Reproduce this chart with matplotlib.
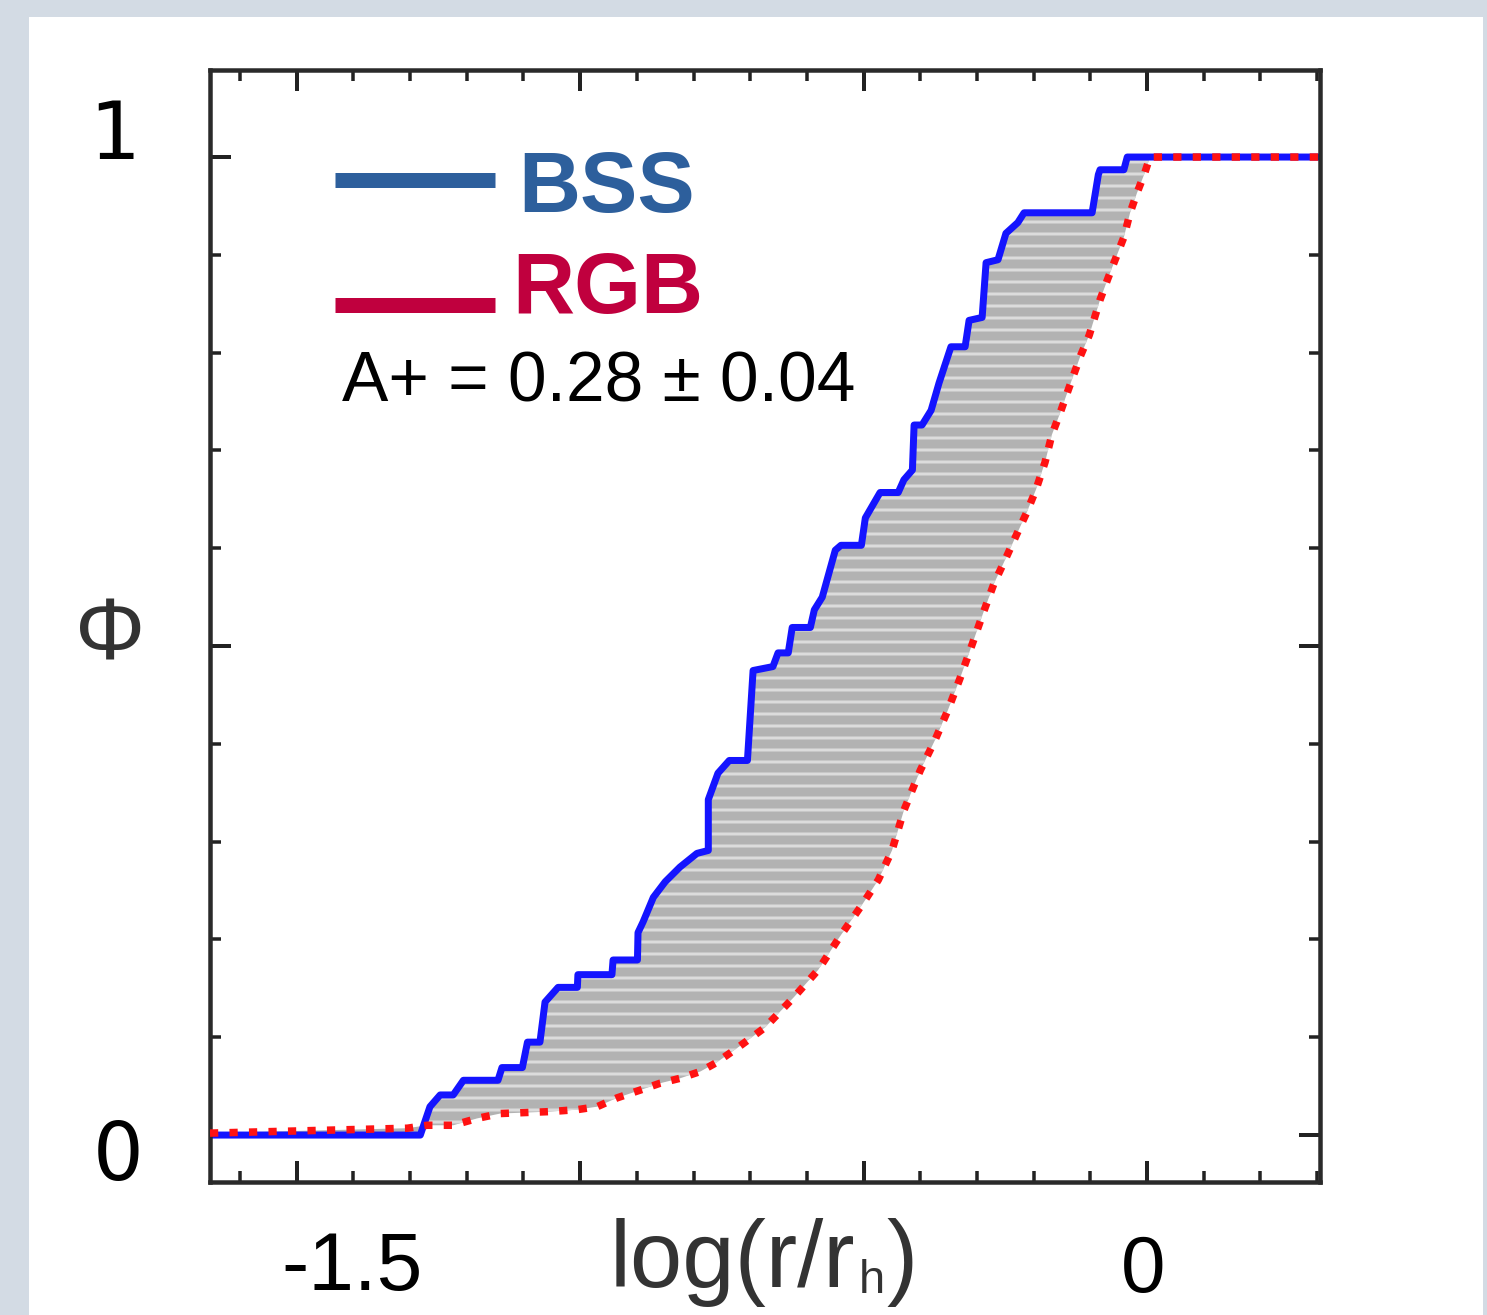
import matplotlib
matplotlib.use("Agg")
import matplotlib.pyplot as plt
import numpy as np
from matplotlib.lines import Line2D
from matplotlib.patches import Rectangle
from matplotlib.ticker import MultipleLocator

W, H, DPI = 1487, 1315, 72

# cumulative radial distribution of BSS (staircase vertices)
bss_logr = [-1.653, -1.282, -1.265, -1.247, -1.224, -1.206, -1.145, -1.138,
            -1.102, -1.093, -1.071, -1.062, -1.039, -1.005, -1.004, -0.944,
            -0.942, -0.899, -0.898, -0.889, -0.871, -0.850, -0.824, -0.794,
            -0.774, -0.774, -0.757, -0.737, -0.705, -0.695, -0.660, -0.651,
            -0.633, -0.626, -0.594, -0.587, -0.573, -0.550, -0.540, -0.504,
            -0.497, -0.487, -0.471, -0.439, -0.429, -0.414, -0.411, -0.397,
            -0.381, -0.367, -0.346, -0.321, -0.314, -0.291, -0.284, -0.263,
            -0.249, -0.228, -0.217, -0.097, -0.086, -0.083, -0.041, -0.035,
            0.305]
bss_phi = [0.0, 0.0, 0.029, 0.041, 0.041, 0.056, 0.056, 0.069,
           0.069, 0.095, 0.095, 0.136, 0.151, 0.151, 0.164, 0.164,
           0.179, 0.179, 0.207, 0.218, 0.243, 0.259, 0.274, 0.288,
           0.291, 0.343, 0.370, 0.383, 0.383, 0.475, 0.479, 0.493,
           0.493, 0.519, 0.519, 0.537, 0.550, 0.598, 0.603, 0.603,
           0.631, 0.641, 0.657, 0.657, 0.670, 0.680, 0.726, 0.726,
           0.741, 0.769, 0.806, 0.806, 0.833, 0.836, 0.892, 0.895,
           0.922, 0.933, 0.943, 0.943, 0.982, 0.987, 0.987, 1.0,
           1.0]

# cumulative radial distribution of RGB stars
rgb_logr = [-1.653, -1.305, -1.270, -1.224, -1.182, -1.141, -1.053, -1.005,
            -0.970, -0.935, -0.894, -0.859, -0.824, -0.788, -0.760, -0.723,
            -0.674, -0.623, -0.580, -0.543, -0.501, -0.474, -0.450, -0.429,
            -0.400, -0.374, -0.351, -0.330, -0.309, -0.289, -0.270, -0.249,
            -0.231, -0.212, -0.196, -0.180, -0.168, -0.153, -0.139, -0.118,
            -0.102, -0.083, -0.069, -0.055, -0.041, -0.030, -0.018, -0.004,
            0.005, 0.305]
rgb_phi = [0.002, 0.007, 0.010, 0.010, 0.017, 0.022, 0.024, 0.026,
           0.029, 0.038, 0.046, 0.053, 0.058, 0.065, 0.074, 0.089,
           0.110, 0.141, 0.169, 0.202, 0.237, 0.261, 0.291, 0.332,
           0.373, 0.404, 0.435, 0.467, 0.501, 0.534, 0.564, 0.590,
           0.613, 0.637, 0.660, 0.688, 0.716, 0.739, 0.762, 0.796,
           0.818, 0.854, 0.876, 0.897, 0.918, 0.943, 0.963, 0.984,
           1.0, 1.0]

labels = ["BSS", "RGB"]
label_colors = ["#2d5f9c", "#c0003e"]
a_plus = "A+ = 0.28 ± 0.04"

XLIM = (-1.653, 0.305)
YLIM = (-0.048, 1.089)
GREY = "#333333"


def fx(x):
    return x / W


def fy(y):
    return 1 - y / H


plt.rcParams["hatch.linewidth"] = 3.0

fig = plt.figure(figsize=(W / DPI, H / DPI), dpi=DPI, facecolor="#d3dbe4")
fig.patches.append(Rectangle((fx(29), 0), fx(1483) - fx(29), fy(17),
                             transform=fig.transFigure, facecolor="white",
                             edgecolor="none", zorder=-1))

ax = fig.add_axes([fx(210), fy(1182), fx(1320) - fx(210), fy(70) - fy(1182)])

# shaded area between the two distributions
ax.fill(np.r_[bss_logr, rgb_logr[::-1]], np.r_[bss_phi, rgb_phi[::-1]],
        facecolor="#b2b2b2", edgecolor="#dcdcdc", linewidth=0, hatch="-",
        zorder=1)
ax.plot(bss_logr, bss_phi, color="#1414ff", lw=7, zorder=2)
ax.plot(rgb_logr, rgb_phi, color="#ff1212", lw=7.5, linestyle=(0, (1.1, 1.5)),
        zorder=3)

ax.set_xlim(XLIM)
ax.set_ylim(YLIM)
ax.xaxis.set_major_locator(MultipleLocator(0.5))
ax.xaxis.set_minor_locator(MultipleLocator(0.1))
ax.yaxis.set_major_locator(MultipleLocator(0.5))
ax.yaxis.set_minor_locator(MultipleLocator(0.1))
ax.tick_params(which="both", direction="in", top=True, right=True,
               labelleft=False, labelbottom=False, color="#222222")
ax.tick_params(which="major", length=21, width=4)
ax.tick_params(which="minor", length=11, width=3.5)
for s in ax.spines.values():
    s.set_linewidth(4.5)
    s.set_color("#2a2a2a")

# legend drawn by hand
for yy, col in zip([180, 305], label_colors):
    fig.add_artist(Line2D([fx(335), fx(495)], [fy(yy), fy(yy)], lw=15,
                          color=col, solid_capstyle="butt"))
fig.text(fx(518), fy(212), labels[0], color=label_colors[0], fontsize=86,
         fontweight="bold", family="Liberation Sans", va="baseline")
fig.text(fx(512), fy(313), labels[1], color=label_colors[1], fontsize=86,
         fontweight="bold", family="Liberation Sans", va="baseline")
fig.text(fx(342), fy(401), a_plus, color="black", fontsize=69.5,
         family="Liberation Sans", va="baseline")

# axis annotations
fig.text(fx(115), fy(159), "1", fontsize=80, ha="center", va="baseline")
fig.text(fx(118), fy(1180), "0", fontsize=80, ha="center", va="baseline")
fig.text(fx(110), fy(637), "Φ", fontsize=88, ha="center", va="center",
         color=GREY, family="Liberation Sans")
fig.text(fx(352), fy(1290), "-1.5", fontsize=82, ha="center", va="baseline",
         family="Liberation Sans")
fig.text(fx(1143), fy(1292), "0", fontsize=80, ha="center", va="baseline",
         family="Liberation Sans")

# x label: log(r/r_h) with a small subscript
t = fig.text(fx(610), fy(1287), "log(r/r", fontsize=94, va="baseline",
             color=GREY, family="Liberation Sans")
sub = ax.annotate("h", xy=(1, 0), xycoords=t, xytext=(3, 14),
                  textcoords="offset points", fontsize=47, color=GREY,
                  family="Liberation Sans", va="baseline",
                  annotation_clip=False)
ax.annotate(")", xy=(1, 0), xycoords=sub, xytext=(2, 16),
            textcoords="offset points", fontsize=94, color=GREY,
            family="Liberation Sans", va="baseline", annotation_clip=False)

fig.savefig("out.png", dpi=DPI, facecolor=fig.get_facecolor())
